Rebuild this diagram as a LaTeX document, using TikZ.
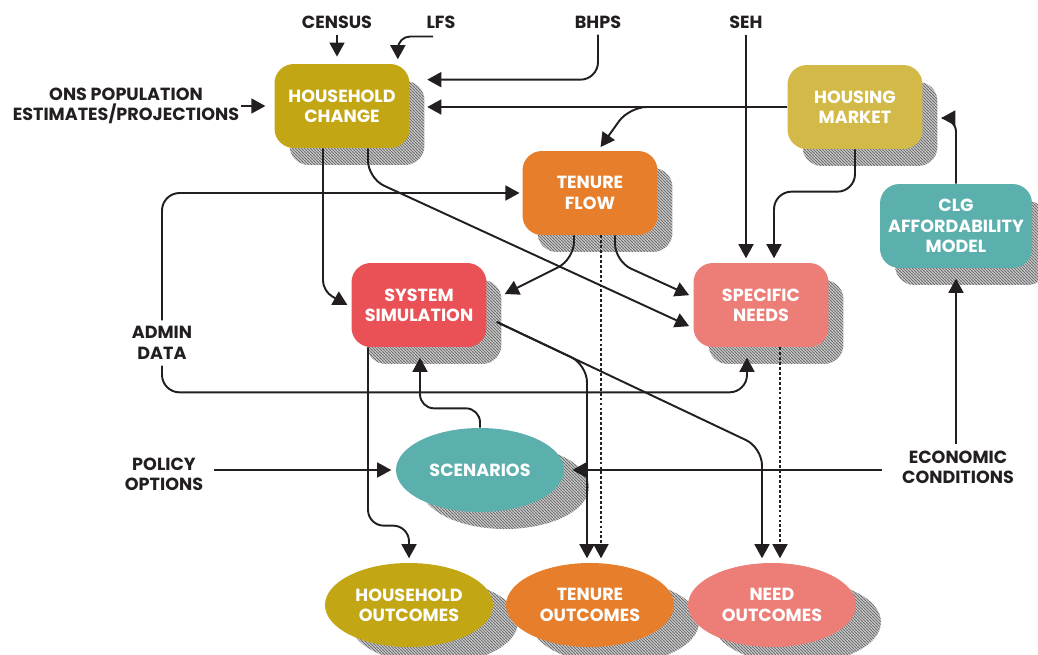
\documentclass[tikz,border=0pt]{standalone}
\usepackage{fontspec}
\setmainfont{Poppins}
\usepackage{xcolor}
\usetikzlibrary{shapes.geometric,arrows.meta,positioning,calc,shadows,patterns.meta}

\definecolor{hhold}{HTML}{C2A614}
\definecolor{mkt}{HTML}{D3B947}
\definecolor{tenure}{HTML}{E67E2B}
\definecolor{clg}{HTML}{5BAFAD}
\definecolor{sysred}{HTML}{E95156}
\definecolor{needs}{HTML}{EC7D77}
\definecolor{ink}{HTML}{231F20}
\definecolor{hatchlight}{HTML}{C8C8C8}
\definecolor{hatchdark}{HTML}{707070}

\tikzdeclarepattern{
  name=finehatch,
  type=colored,
  bounding box={(0pt,0pt) and (1.7pt,1.7pt)},
  tile size={(1.7pt,1.7pt)},
  code={
    \fill[hatchlight] (0pt,0pt) rectangle (1.7pt,1.7pt);
    \draw[hatchdark, line width=0.5pt] (-0.3pt,2pt) -- (2pt,-0.3pt);
  }
}

\newcommand{\diagfont}{\fontsize{10}{11.6}\selectfont\bfseries}

\tikzset{
  stage/.style={rectangle, rounded corners=11pt, minimum width=2.7cm, minimum height=1.68cm,
    fill=#1, text=white, align=center, font=\diagfont,
    general shadow={shadow xshift=0.3cm, shadow yshift=-0.34cm, pattern=finehatch}},
  oval/.style={ellipse, minimum width=3.36cm, minimum height=1.68cm, inner sep=0pt,
    fill=#1, text=white, align=center, font=\diagfont,
    general shadow={shadow xshift=0.5cm, shadow yshift=-0.34cm, pattern=finehatch}},
  datasrc/.style={text=ink, align=center, font=\diagfont},
  feed/.style={-{Triangle[length=8pt,width=8.5pt]}, line width=1.1pt, draw=ink, shorten >=2.5pt},
  feeddot/.style={feed, line width=1pt, dash pattern=on 1.6pt off 1.2pt},
}

\begin{document}
\begin{tikzpicture}[x=0.02cm, y=-0.02cm]
    \useasboundingbox (0,0) rectangle (1038,655);

    % Model blocks
    \node[stage=hhold] (HC) at (342,106) {HOUSEHOLD\\CHANGE};
    \node[stage=mkt] (HM) at (855,107) {HOUSING\\MARKET};
    \node[stage=tenure] (TF) at (590,193) {TENURE\\FLOW};
    \node[stage=clg, minimum width=3.04cm] (CLG) at (956,226) {CLG\\AFFORDABILITY\\MODEL};
    \node[stage=sysred] (SS) at (419,305) {SYSTEM\\SIMULATION};
    \node[stage=needs] (SN) at (761,305) {SPECIFIC\\NEEDS};

    % Scenarios and outcomes
    \node[oval=clg] (SCEN) at (480,470) {SCENARIOS};
    \node[oval=hhold] (HO) at (409,605) {HOUSEHOLD\\OUTCOMES};
    \node[oval=tenure] (TO) at (590,605) {TENURE\\OUTCOMES};
    \node[oval=needs] (NO) at (772,605) {NEED\\OUTCOMES};

    % Data sources
    \node[datasrc] (census) at (337,22) {CENSUS};
    \node[datasrc] (lfs) at (441,22) {LFS};
    \node[datasrc] (bhps) at (598,22) {BHPS};
    \node[datasrc] (seh) at (746,22) {SEH};
    \node[datasrc, inner sep=1pt] (ons) at (126,106) {ONS POPULATION\\ESTIMATES/PROJECTIONS};
    \node[datasrc] (admin) at (162,343) {ADMIN\\DATA};
    \node[datasrc] (policy) at (164,474) {POLICY\\OPTIONS};
    \node[datasrc] (econ) at (958,467) {ECONOMIC\\CONDITIONS};

    % Inputs to household change
    \draw[feed, shorten >=4pt] (census) -- (census |- HC.north);
    \draw[feed, rounded corners=7pt] ($(lfs.south)+(-8,2)$) -| ($(HC.north east)+(-12,0)$);
    \draw[feed, rounded corners=10pt] (bhps) |- ($(HC.north east)+(13,16)$);
    \draw[feed, shorten >=5pt] (ons.east) -- (ons.east -| HC.west);
    \draw[feed] (HM.west) -- ($(HM.west -| HC.east)+(13,0)$);

    % Housing market and affordability
    \draw[feed, rounded corners=10pt] (HM.west) -- ($(HM.west)+(-158,0)$) -- ($(TF.north)+(8,0)$);
    \draw[feed, rounded corners=10pt] (HM.south) |- ($(SN.north)+(13,-71)$) -- ($(SN.north)+(13,0)$);
    \draw[feed, rounded corners=8pt] (CLG.north) |- ($(HM.east)+(14,11)$);
    \draw[feed] (seh) -- (seh |- SN.north);

    % Admin data loop
    \draw[feed, shorten >=1.5pt, rounded corners=10pt] (admin.north) |- (TF.west);
    \draw[feed, rounded corners=10pt] (admin.south) |- ($(SN.south)+(-14,45)$) -- ($(SN.south)+(-14,6)$);

    % Flows into simulation and needs
    \draw[feed, rounded corners=6pt] ($(HC.south)+(-19,0)$) -- ($(HC.south)+(-19,143)$) -- ($(SS.west)+(0,2)$);
    \draw[feed, rounded corners=10pt] ($(HC.south)+(26,0)$) -- ($(HC.south)+(26,30)$) -- ($(SN.west)+(0,23)$);
    \draw[feed, rounded corners=10pt] ($(TF.south)+(-16,0)$) -- ($(TF.south)+(-16,24)$) -- ($(SS.east)+(14,-9)$);
    \draw[feed, rounded corners=10pt] ($(TF.south)+(25,0)$) -- ($(TF.south)+(25,26)$) -- ($(SN.west)+(0,-8)$);

    % Outcomes
    \draw[feed, rounded corners=10pt] ($(SS.east)+(10,17)$) -- ($(TO.north)+(-3,-198)$) -- ($(TO.north)+(-3,0)$);
    \draw[feed, rounded corners=10pt] ($(SS.east)+(10,17)$) -- ($(NO.north)+(-10,-115)$) -- ($(NO.north)+(-10,0)$);
    \draw[feed, rounded corners=9pt] ($(SS.south)+(-51,0)$) |- ($(HO.north)+(0,-37)$) -- (HO.north);
    \draw[feeddot] ($(TF.south)+(11,0)$) -- ($(TO.north)+(11,0)$);
    \draw[feeddot] ($(SN.south)+(19,0)$) -- ($(NO.north)+(8,0)$);

    % Scenarios
    \draw[feed, rounded corners=8pt] (SCEN.north) |- ($(SS.south)+(1,61)$) -- ($(SS.south)+(1,6)$);
    \draw[feed] ($(policy.east |- SCEN.west)+(5,0)$) -- (SCEN.west);
    \draw[feed, shorten >=0pt] ($(econ.west |- SCEN.east)+(-14,0)$) -- ($(SCEN.east)+(8,0)$);
    \draw[feed] (econ.north -| CLG.south) -- ($(CLG.south)+(0,6)$);

\end{tikzpicture}
\end{document}
